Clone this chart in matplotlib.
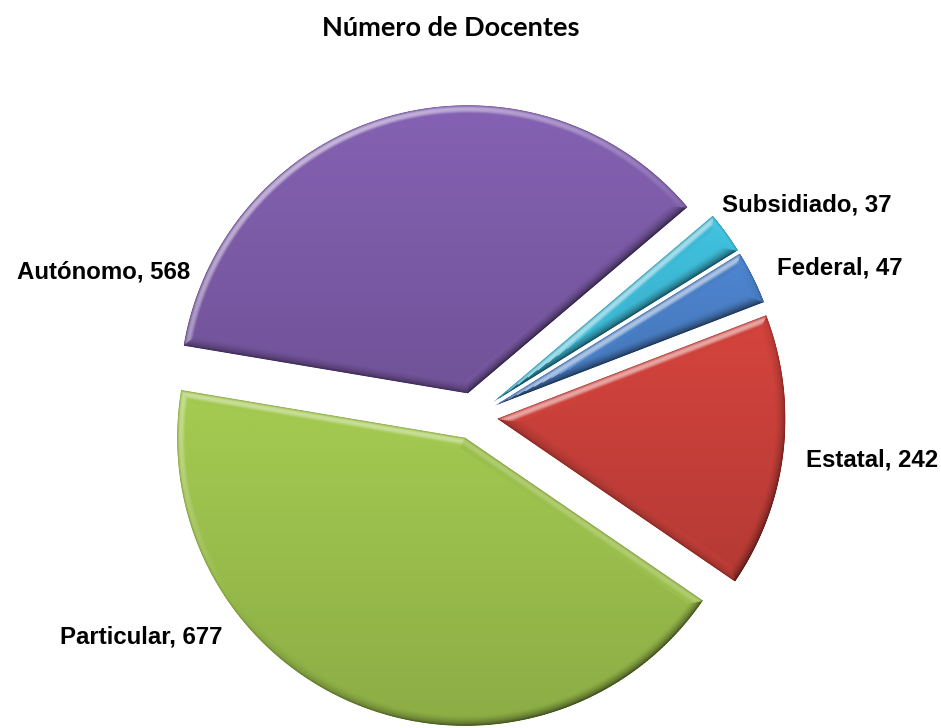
import numpy as np
import matplotlib
matplotlib.use("Agg")
import matplotlib.pyplot as plt
from matplotlib.patches import Polygon
from matplotlib.collections import LineCollection
from matplotlib.colors import to_rgb

# ---- data ----
categories = ["Subsidiado", "Federal", "Estatal", "Particular", "Autónomo"]
values = [37, 47, 242, 677, 568]
colors = ["#3DB8D4", "#4A7FC6", "#C9403A", "#9CC04D", "#7D5CA9"]
title = "Número de Docentes"

# ---- layout / style ----
W, H = 941, 728
fig = plt.figure(figsize=(W / 100, H / 100), dpi=100)
ax = fig.add_axes([0, 0, 1, 1])

center = (474, 312)
radius = 288
explode = [23.5] * len(values)

wedges, _ = ax.pie(values, startangle=40.3, counterclock=False, center=center,
                   radius=radius, explode=explode, colors=colors,
                   wedgeprops=dict(linewidth=0))
ax.set_xlim(0, W)
ax.set_ylim(0, H)
ax.set_aspect("equal")
ax.axis("off")


def inset_wedge(c, r, t1, t2, d, n=240):
    if d <= 0:
        apex = np.array(c, dtype=float)
        a1, a2, rr = t1, t2, r
    else:
        half = np.radians(t2 - t1) / 2
        mid = np.radians(t1 + t2) / 2
        apex = np.array(c) + d / np.sin(half) * np.array([np.cos(mid), np.sin(mid)])
        rr = r - d
        delta = np.degrees(np.arcsin(d / rr))
        a1, a2 = t1 + delta, t2 - delta
    th = np.radians(np.linspace(a1, a2, n))
    pts = np.column_stack([c[0] + rr * np.cos(th), c[1] + rr * np.sin(th)])
    return np.vstack([apex, pts, apex])


L = np.array([-0.55, 0.83])
L = L / np.linalg.norm(L)
bev_w = 11.0

for w, col in zip(wedges, colors):
    w.set_visible(False)
    base = np.array(to_rgb(col))
    outline = inset_wedge(w.center, w.r, w.theta1, w.theta2, 0)
    clip = Polygon(outline, closed=True, facecolor="none", edgecolor="none",
                   transform=ax.transData)
    ax.add_patch(clip)
    ymin, ymax = outline[:, 1].min(), outline[:, 1].max()
    xmin, xmax = outline[:, 0].min(), outline[:, 0].max()

    def shade(y):
        t = (y - ymin) / max(ymax - ymin, 1)  # 0 bottom, 1 top
        f = 0.90 + 0.16 * t
        return np.clip(base * f, 0, 1)

    ys = np.linspace(ymax, ymin, 64)
    img = np.array([shade(y) for y in ys])[:, None, :]
    im = ax.imshow(img, extent=(xmin, xmax, ymin, ymax), aspect="auto",
                   interpolation="bilinear", zorder=2)
    im.set_clip_path(clip)

    segs_all, cols_all = [], []
    for d in np.arange(0.5, bev_w, 0.9):
        pts = inset_wedge(w.center, w.r, w.theta1, w.theta2, d)
        seg = np.stack([pts[:-1], pts[1:]], axis=1)
        t = seg[:, 1] - seg[:, 0]
        ln = np.linalg.norm(t, axis=1, keepdims=True)
        ln[ln == 0] = 1
        nrm = np.column_stack([t[:, 1], -t[:, 0]]) / ln
        dot = nrm @ L
        s = 1 - d / bev_w
        light_prof = np.sin(np.pi * min(d / (bev_w * 0.75), 1.0)) * 0.55
        dark_prof = s ** 1.5 * 0.55
        midy = seg[:, :, 1].mean(axis=1)
        for m, dt in zip(midy, dot):
            bc = shade(m)
            if dt > 0:
                k = light_prof * dt
                c = bc + (1 - bc) * k
            else:
                k = dark_prof * (-dt)
                c = bc * (1 - k)
            # slight overall darkening of the outermost rim
            c = c * (1 - 0.18 * max(0, 1 - d / 2.5))
            cols_all.append(np.clip(c, 0, 1))
        segs_all.append(seg)
    lc = LineCollection(np.concatenate(segs_all), colors=cols_all,
                        linewidths=1.1, capstyle="round", zorder=3)
    lc.set_clip_path(clip)
    ax.add_collection(lc)

ax.text(451, 700, title, ha="center", va="center", fontsize=19.5,
        fontweight="bold", family=["Lato", "DejaVu Sans"])

lab_font = dict(fontsize=17.3, fontweight="bold", family=["Liberation Sans", "DejaVu Sans"],
                va="center")
label_pos = {
    "Subsidiado": (722, 523, "left"),
    "Federal": (777, 460, "left"),
    "Estatal": (806, 268, "left"),
    "Autónomo": (190, 456, "right"),
    "Particular": (222, 91, "right"),
}
for cat, v in zip(categories, values):
    x, y, ha = label_pos[cat]
    ax.text(x, y, f"{cat}, {v}", ha=ha, **lab_font)

fig.savefig("out.png", dpi=100, facecolor="white")
